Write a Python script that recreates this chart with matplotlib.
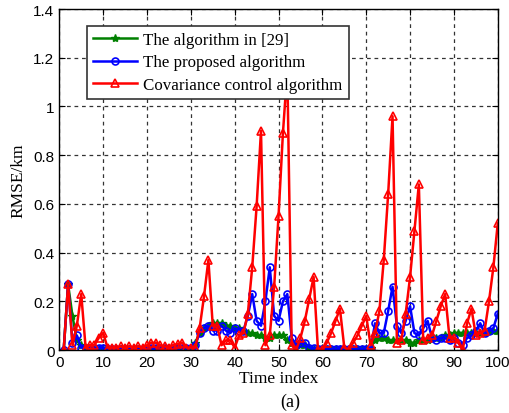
import matplotlib
matplotlib.use("Agg")
import matplotlib.pyplot as plt
import numpy as np

plt.rcParams['font.family'] = ['Liberation Serif', 'DejaVu Serif']

time_index = np.arange(1, 101)

# RMSE of the algorithm in [29]
rmse_ref29 = [
    0.00, 0.27, 0.14, 0.04, 0.02, 0.01, 0.005, 0.005, 0.005, 0.005,
    0.005, 0.005, 0.005, 0.005, 0.005, 0.005, 0.005, 0.005, 0.005, 0.005,
    0.005, 0.005, 0.005, 0.005, 0.005, 0.005, 0.005, 0.005, 0.005, 0.01,
    0.03, 0.07, 0.09, 0.10, 0.11, 0.11, 0.11, 0.10, 0.10, 0.09,
    0.09, 0.08, 0.07, 0.07, 0.06, 0.06, 0.05, 0.05, 0.06, 0.06,
    0.06, 0.04, 0.03, 0.02, 0.02, 0.02, 0.01, 0.005, 0.005, 0.005,
    0.005, 0.005, 0.005, 0.005, 0.005, 0.005, 0.005, 0.005, 0.005, 0.005,
    0.01, 0.04, 0.05, 0.05, 0.04, 0.04, 0.04, 0.04, 0.04, 0.03,
    0.03, 0.04, 0.04, 0.04, 0.05, 0.05, 0.05, 0.06, 0.06, 0.07,
    0.07, 0.07, 0.07, 0.07, 0.07, 0.07, 0.07, 0.08, 0.08, 0.08,
]

# RMSE of the proposed algorithm
rmse_proposed = [
    0.00, 0.27, 0.03, 0.06, 0.01, 0.01, 0.01, 0.01, 0.01, 0.01,
    0.005, 0.005, 0.005, 0.005, 0.005, 0.005, 0.005, 0.005, 0.005, 0.005,
    0.01, 0.01, 0.005, 0.01, 0.005, 0.01, 0.01, 0.01, 0.01, 0.01,
    0.02, 0.07, 0.09, 0.10, 0.08, 0.08, 0.10, 0.08, 0.07, 0.09,
    0.08, 0.08, 0.14, 0.23, 0.12, 0.10, 0.20, 0.34, 0.14, 0.12,
    0.20, 0.23, 0.05, 0.02, 0.03, 0.03, 0.01, 0.01, 0.005, 0.005,
    0.005, 0.005, 0.005, 0.005, 0.005, 0.005, 0.005, 0.005, 0.005, 0.005,
    0.00, 0.11, 0.07, 0.07, 0.16, 0.26, 0.10, 0.07, 0.12, 0.18,
    0.07, 0.06, 0.09, 0.12, 0.05, 0.04, 0.05, 0.05, 0.04, 0.05,
    0.03, 0.02, 0.05, 0.06, 0.08, 0.11, 0.07, 0.08, 0.09, 0.15,
]

# RMSE of the covariance control algorithm
rmse_covariance = [
    0.00, 0.27, 0.02, 0.10, 0.23, 0.01, 0.02, 0.02, 0.05, 0.07,
    0.01, 0.01, 0.01, 0.015, 0.01, 0.015, 0.01, 0.015, 0.01, 0.02,
    0.03, 0.03, 0.02, 0.015, 0.01, 0.02, 0.025, 0.03, 0.01, 0.01,
    0.01, 0.09, 0.22, 0.37, 0.10, 0.10, 0.02, 0.04, 0.04, 0.01,
    0.06, 0.07, 0.15, 0.34, 0.59, 0.90, 0.02, 0.06, 0.26, 0.55,
    0.89, 1.15, 0.02, 0.00, 0.05, 0.12, 0.21, 0.30, 0.00, 0.00,
    0.03, 0.07, 0.12, 0.17, 0.01, 0.00, 0.03, 0.06, 0.10, 0.14,
    0.02, 0.07, 0.16, 0.37, 0.64, 0.96, 0.03, 0.04, 0.15, 0.30,
    0.49, 0.68, 0.04, 0.05, 0.06, 0.12, 0.18, 0.23, 0.05, 0.05,
    0.03, 0.00, 0.11, 0.17, 0.06, 0.07, 0.08, 0.20, 0.34, 0.52,
]

series_labels = ["The algorithm in [29]", "The proposed algorithm",
                 "Covariance control algorithm"]

fig = plt.figure(figsize=(5.10, 4.14), dpi=100)
ax = fig.add_axes([0.1163, 0.152, 0.8597, 0.8238])

ax.plot(time_index, rmse_ref29, color='#008000', marker='*', markersize=6,
        linewidth=1.8, label=series_labels[0])
ax.plot(time_index, rmse_proposed, color='#0000ff', marker='o', markersize=5,
        markerfacecolor='none', markeredgewidth=1.2, linewidth=1.8,
        label=series_labels[1])
ax.plot(time_index, rmse_covariance, color='#ff0000', marker='^', markersize=6,
        markerfacecolor='none', markeredgewidth=1.2, linewidth=1.8,
        label=series_labels[2])

ax.set_xlim(0, 100)
ax.set_ylim(0, 1.4)
ax.set_xticks(np.arange(0, 101, 10))
ax.set_yticks([0, 0.2, 0.4, 0.6, 0.8, 1.0, 1.2, 1.4])
ax.set_yticklabels(["0", "0.2", "0.4", "0.6", "0.8", "1", "1.2", "1.4"])
ax.tick_params(direction='in', labelsize=11, length=4, top=True, right=True)
for lab in ax.get_xticklabels() + ax.get_yticklabels():
    lab.set_family(['Liberation Sans', 'DejaVu Sans'])
ax.grid(True, color='#333333', linestyle=(0, (3, 3)), linewidth=0.9)
for s in ax.spines.values():
    s.set_linewidth(1.0)

ax.set_xlabel("Time index", fontsize=12.5, labelpad=1)
ax.set_ylabel("RMSE/km", fontsize=12.5, labelpad=5)

leg = ax.legend(loc='upper left', bbox_to_anchor=(0.0625, 0.951), fontsize=12.2,
                frameon=True, fancybox=False, edgecolor='#333333',
                framealpha=1.0, borderpad=0.35, labelspacing=0.4,
                handlelength=2.6, handletextpad=0.4, borderaxespad=0)
leg.get_frame().set_linewidth(1.2)
leg.set_zorder(10)

fig.text(0.57, 0.028, "(a)", ha='center', va='center', fontsize=13)

fig.savefig("out.png", dpi=100)
